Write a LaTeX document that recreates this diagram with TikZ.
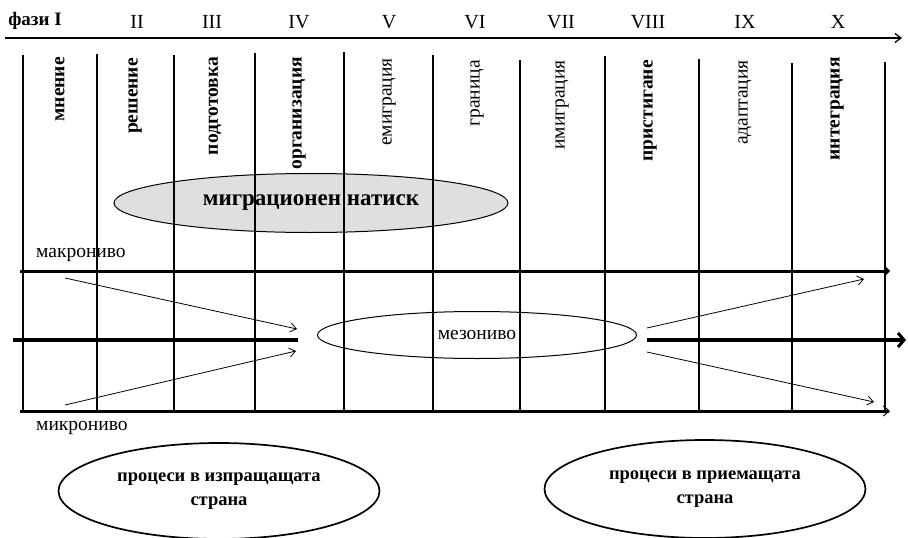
\documentclass[tikz,border=0pt]{standalone}
\usepackage{fontspec}
\setmainfont{Liberation Serif}
\usetikzlibrary{arrows.meta,shapes.geometric}

\tikzset{
  phase/.style={inner sep=0pt,font=\fontsize{20}{22}\selectfont},
  stage/.style={rotate=90,anchor=east,inner sep=0pt,font=\fontsize{19.5}{20}\selectfont\bfseries},
  stagelight/.style={stage,font=\fontsize{19.5}{20}\selectfont},
  level/.style={anchor=west,inner sep=0pt,font=\fontsize{19.5}{21}\selectfont},
  col/.style={line width=1.1pt},
  band/.style={line width=3pt},
  thinarrow/.style={line width=0.8pt,-{Straight Barb[length=6pt,width=9pt]}},
  country/.style={ellipse,draw,line width=1.7pt,inner sep=0pt,minimum width=321pt,minimum height=96pt,align=center,font=\fontsize{18.5}{24}\selectfont\bfseries},
}

\begin{document}
\begin{tikzpicture}[x=1pt,y=-1pt]
    \useasboundingbox (0,0) rectangle (908,538);

    % phases axis
    \node[phase,font=\fontsize{19}{21}\selectfont\bfseries] (faze) at (35,21) {фази I};
    \foreach \x/\r [count=\i from 2] in {137/II,212/III,299/IV,389/V,475/VI,561/VII,648/VIII,745/IX,838/X}
        \node[phase] (ph\i) at (\x,22) {\r};
    \coordinate (axisL) at (5,38);
    \coordinate (axisR) at (902,38);
    \draw[line width=1.3pt,-{Straight Barb[length=6pt,width=9pt]}] (axisL) -- (axisR);

    % pressure ellipse
    \node[ellipse,draw,fill=gray!25,line width=1pt,minimum width=394pt,minimum height=59pt,
          font=\fontsize{23}{25}\selectfont\bfseries] (press) at (311,203) {миграционен натиск};

    % mezo ellipse
    \node[ellipse,draw,line width=1pt,minimum width=319pt,minimum height=47pt,
          font=\fontsize{19.5}{21}\selectfont] (mezo) at (477,335) {мезониво};

    % columns
    \foreach \x/\t in {23/55,97/54,174/55,255/53,344/52,433/55,520/60,605/56,699/59,792/63,885/62}
        \draw[col] (\x,\t) -- (\x,411);

    % stages
    \node[stage] (s1) at (60,57) {мнение};
    \node[stage] (s2) at (135,58) {решение};
    \node[stage] (s3) at (215,57) {подготовка};
    \node[stage] (s4) at (299,57) {организация};
    \node[stagelight] (s5) at (389,58) {емиграция};
    \node[stagelight] (s6) at (477,60) {граница};
    \node[stagelight] (s7) at (562,60) {имиграция};
    \node[stage] (s8) at (650,60) {пристигане};
    \node[stagelight] (s9) at (745,60) {адаптация};
    \node[stage] (s10) at (837,57) {интеграция};

    % levels
    \node[level] (makro) at (36,255) {макрониво};
    \node[level] (mikro) at (36,428) {микрониво};

    \coordinate (makroL) at (20,271);
    \coordinate (makroR) at (890,271);
    \coordinate (mikroL) at (20,411);
    \coordinate (mikroR) at (890,411);
    \coordinate (midL) at (13,340);
    \coordinate (midM) at (298,340);
    \coordinate (midN) at (647,340);
    \coordinate (midR) at (906,340);

    \draw[band,-{Straight Barb[length=4pt,width=8pt,line width=2pt]}] (makroL) -- (makroR);
    \draw[band,-{Straight Barb[length=6pt,width=10pt,line width=1pt]}] (mikroL) -- (mikroR);
    \draw[line width=4pt] (midL) -- (midM);
    \draw[line width=4pt,-{Straight Barb[length=6pt,width=14pt,line width=3pt]}] (midN) -- (midR);

    % converging and diverging arrows
    \coordinate (a1) at (65,278);
    \coordinate (a1e) at (297,329);
    \coordinate (a2) at (65,405);
    \coordinate (a2e) at (296,351);
    \coordinate (b1) at (647,328);
    \coordinate (b1e) at (864,279);
    \coordinate (b2) at (647,352);
    \coordinate (b2e) at (874,402);
    \draw[thinarrow] (a1) -- (a1e);
    \draw[thinarrow] (a2) -- (a2e);
    \draw[thinarrow] (b1) -- (b1e);
    \draw[thinarrow] (b2) -- (b2e);

    % countries
    \node[country] (send) at (219,491) {процеси в изпращащата\\страна};
    \node[country,minimum height=98pt] (recv) at (705,489) {процеси в приемащата\\страна};
\end{tikzpicture}
\end{document}
